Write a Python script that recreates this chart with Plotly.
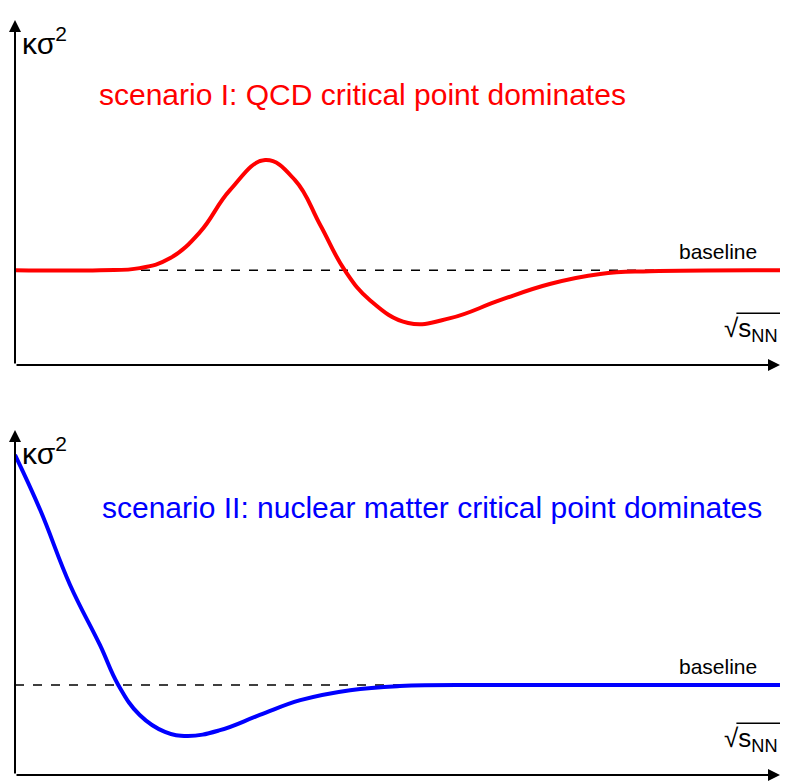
import plotly.graph_objects as go

red_x = [0, 11.1, 16.3, 20.3, 24.2, 28.1, 32.7, 36.6, 39.9, 43.1, 46.4, 51.4, 56.9, 63.4, 69.9, 76.5, 83, 100]
red_y = [27.5, 27.5, 28.1, 31.0, 38.6, 50.7, 59.4, 53.6, 40.6, 27.5, 18.8, 12.2, 13.6, 18.8, 23.5, 26.4, 27.2, 27.5]
blue_x = [0, 3.3, 7.2, 11.1, 13.5, 16.3, 19.6, 22.6, 26.8, 32.0, 37.3, 43.8, 50.3, 63.4, 100]
blue_y = [92.8, 76.8, 55.1, 37.7, 26.1, 17.4, 12.5, 11.3, 13.0, 17.4, 21.7, 24.6, 25.8, 26.1, 26.1]
baseline = 27.5
baseline2 = 26.1

fig = go.Figure()
fig.add_trace(go.Scatter(x=[0, 100], y=[baseline]*2, mode="lines", line=dict(color="black", dash="dash", width=1.5), xaxis="x", yaxis="y"))
fig.add_trace(go.Scatter(x=red_x, y=red_y, mode="lines", line=dict(color="red", width=4, shape="spline", smoothing=1.2), xaxis="x", yaxis="y"))
fig.add_trace(go.Scatter(x=[0, 100], y=[baseline2]*2, mode="lines", line=dict(color="black", dash="dash", width=1.5), xaxis="x2", yaxis="y2"))
fig.add_trace(go.Scatter(x=blue_x, y=blue_y, mode="lines", line=dict(color="blue", width=4, shape="spline", smoothing=1.2), xaxis="x2", yaxis="y2"))

ax = dict(range=[0, 100], visible=False, fixedrange=True)
fig.update_layout(
    width=790, height=781, margin=dict(l=7, r=18, t=0, b=0),
    plot_bgcolor="white", paper_bgcolor="white", showlegend=False,
    font=dict(family="Liberation Sans, Arial", color="black"),
    xaxis=dict(ax, domain=[0, 1], anchor="y"),
    yaxis=dict(ax, domain=[0.5428, 0.9846], anchor="x"),
    xaxis2=dict(ax, domain=[0, 1], anchor="y2"),
    yaxis2=dict(ax, domain=[0.0179, 0.4596], anchor="x2"),
)

anns = []
shapes = []
for xr, yr, ydom, base in [("x", "y", (0.5428, 0.9846), baseline), ("x2", "y2", (0.0179, 0.4596), baseline2)]:
    anns.append(dict(x=100, y=0, ax=0, ay=0, xref=xr, yref=yr, axref=xr, ayref=yr, text="", showarrow=True, arrowhead=2, arrowsize=1.2, arrowwidth=2, arrowcolor="black"))
    anns.append(dict(x=0, y=100, ax=0, ay=0, xref=xr, yref=yr, axref=xr, ayref=yr, text="", showarrow=True, arrowhead=2, arrowsize=1.2, arrowwidth=2, arrowcolor="black"))
    anns.append(dict(x=0.6, y=100, xref=xr, yref=yr, text="κσ<sup>2</sup>", showarrow=False, xanchor="left", yanchor="top", font=dict(size=30)))
    py = ydom[0] + (ydom[1] - ydom[0]) * 0.05
    anns.append(dict(x=1.0, y=py, xref="paper", yref="paper", text="√s<sub>NN</sub>", showarrow=False, xanchor="right", yanchor="bottom", font=dict(size=26)))
    oy = ydom[0] + (ydom[1] - ydom[0]) * 0.15
    shapes.append(dict(type="line", xref="paper", yref="paper", x0=0.943, x1=1.0, y0=oy, y1=oy, line=dict(color="black", width=1.5)))
    anns.append(dict(x=97.3, y=base + 1.5, xref=xr, yref=yr, text="baseline", showarrow=False, xanchor="right", yanchor="bottom", font=dict(size=21)))
anns.append(dict(x=45.4, y=78.5, xref="x", yref="y", text="scenario I: QCD critical point dominates", showarrow=False, font=dict(size=30, color="red")))
anns.append(dict(x=54.5, y=77.5, xref="x2", yref="y2", text="scenario II: nuclear matter critical point dominates", showarrow=False, font=dict(size=30, color="blue")))
fig.update_layout(annotations=anns, shapes=shapes)
fig.write_html("out.html")
